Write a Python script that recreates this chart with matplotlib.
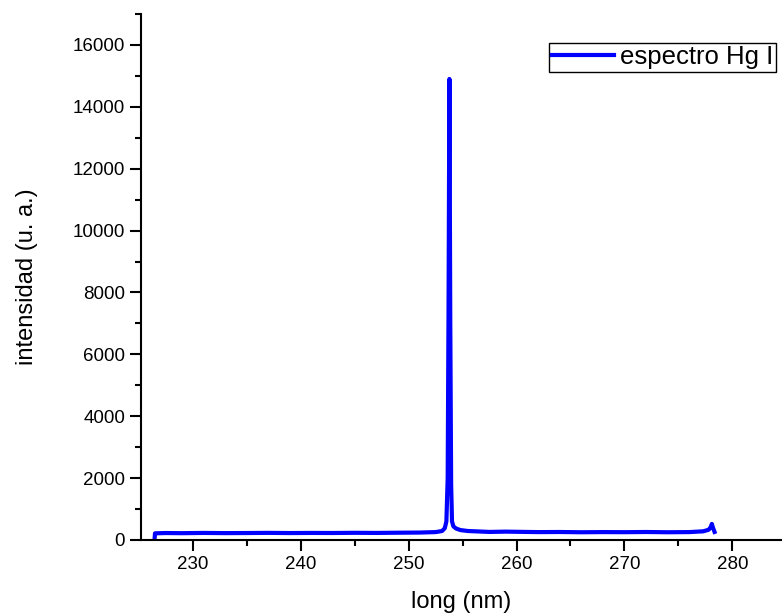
import matplotlib.pyplot as plt
from matplotlib.ticker import MultipleLocator

plt.rcParams['font.family'] = ['Liberation Sans', 'DejaVu Sans']

# wavelength (nm) and intensity (a.u.)
wl = [226.45, 226.5, 227.5, 229.0, 231.0, 233.0, 235.0, 237.0, 239.0, 241.0,
      243.0, 245.0, 247.0, 249.0, 251.0, 252.5, 253.1, 253.35, 253.5, 253.62,
      253.7, 253.78, 253.86, 253.94, 254.02, 254.15, 254.4, 254.8, 255.5, 256.5,
      257.5, 259.0, 260.5, 262.0, 264.0, 266.0, 268.0, 270.0, 272.0, 274.0,
      276.0, 277.3, 277.8, 278.0, 278.1, 278.2, 278.35]
inten = [0, 215, 225, 220, 228, 222, 225, 230, 224, 228,
         226, 232, 228, 235, 240, 255, 290, 380, 600, 2000,
         7500, 14900, 7000, 1800, 600, 440, 370, 320, 290, 275,
         260, 270, 262, 255, 258, 250, 255, 252, 258, 250,
         255, 280, 330, 420, 520, 400, 260]

fig = plt.figure(figsize=(7.82, 6.16), dpi=100)
ax = fig.add_axes([0.1803, 0.1234, 0.8197, 0.8539])

ax.plot(wl, inten, color='#0000ff', lw=3, label='espectro Hg I')

ax.set_xlim(225.2, 284.6)
ax.set_ylim(0, 17000)
ax.xaxis.set_major_locator(MultipleLocator(10))
ax.xaxis.set_minor_locator(MultipleLocator(5))
ax.yaxis.set_major_locator(MultipleLocator(2000))
ax.yaxis.set_minor_locator(MultipleLocator(1000))

ax.spines['top'].set_visible(False)
ax.spines['right'].set_visible(False)
ax.spines['left'].set_linewidth(1.5)
ax.spines['bottom'].set_linewidth(1.5)
ax.tick_params(which='major', direction='out', length=8, width=1.5,
               labelsize=13.5, pad=3.5)
ax.tick_params(which='minor', direction='out', length=4, width=1.5)

ax.set_xlabel('long (nm)', fontsize=17, labelpad=13)
ax.set_ylabel('intensidad (u. a.)', fontsize=17, labelpad=25)

leg = ax.legend(loc='upper right', bbox_to_anchor=(0.9906, 0.945), fontsize=18.5,
                fancybox=False, framealpha=1, edgecolor='black',
                handlelength=2.4, borderpad=0.1, handletextpad=0.25,
                borderaxespad=0)
leg.get_frame().set_linewidth(1)

fig.savefig('out.png', dpi=100)
